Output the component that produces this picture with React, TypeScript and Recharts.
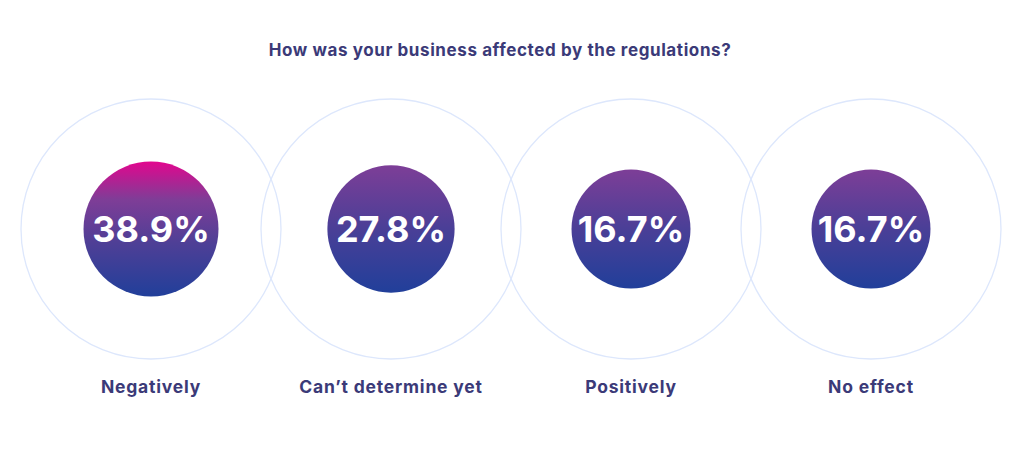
import React from 'react';
import { ScatterChart, Scatter, XAxis, YAxis, ZAxis, Cell, LabelList } from 'recharts';

const categories = ['Negatively', "Can\u2019t determine yet", 'Positively', 'No effect'];
const values = [38.9, 27.8, 16.7, 16.7];
const title = 'How was your business affected by the regulations?';

const data = categories.map((name, i) => ({ x: i, y: 0.5, value: values[i], name }));
const zMin = Math.min(...values);
const zMax = Math.max(...values);

const FONT = 'Inter, "Open Sans", sans-serif';
const TEXT = '#3b3a78';

const OuterRing = (props: any) => (
  <circle cx={props.cx} cy={props.cy} r={130} fill="none" stroke="#dde7fc" strokeWidth={1.3} />
);

const CatTick = (props: any) => {
  const { x, y, payload } = props;
  return (
    <text
      x={x}
      y={y}
      dy={26}
      textAnchor="middle"
      fontFamily={FONT}
      fontWeight={700}
      fontSize={17.5}
      letterSpacing={0.8}
      fill={TEXT}
    >
      {categories[payload.value]}
    </text>
  );
};

export default function App() {
  return (
    <div style={{ position: 'absolute', left: 0, top: 0, width: 1024, height: 459, background: '#fff' }}>
      <div
        style={{
          position: 'absolute', left: 0, top: 39.5, width: 1000, textAlign: 'center',
          fontFamily: FONT, fontWeight: 700, fontSize: 17, letterSpacing: 0.6, color: TEXT,
          whiteSpace: 'nowrap',
        }}
      >
        {title}
      </div>
      <ScatterChart width={1024} height={459} margin={{ top: 99, right: 33, bottom: 70, left: 31 }}>
        <defs>
          <linearGradient id="gradHi" x1="0" y1="0" x2="0" y2="1">
            <stop offset="0" stopColor="#e2068e" />
            <stop offset="0.28" stopColor="#7f3d97" />
            <stop offset="0.6" stopColor="#4f3f96" />
            <stop offset="1" stopColor="#213f9a" />
          </linearGradient>
          <linearGradient id="gradLo" x1="0" y1="0" x2="0" y2="1">
            <stop offset="0" stopColor="#7d3e97" />
            <stop offset="0.5" stopColor="#4a3f97" />
            <stop offset="1" stopColor="#213f9a" />
          </linearGradient>
        </defs>
        <XAxis
          type="number"
          dataKey="x"
          domain={[-0.5, 3.5]}
          ticks={[0, 1, 2, 3]}
          axisLine={false}
          tickLine={false}
          tick={<CatTick />}
          height={30}
        />
        <YAxis type="number" dataKey="y" domain={[0, 1]} hide />
        <ZAxis zAxisId="outer" range={[100, 100]} />
        <ZAxis
          zAxisId="inner"
          type="number"
          dataKey="value"
          domain={[zMin, zMax]}
          range={[Math.PI * 59.5 * 59.5, Math.PI * 67.5 * 67.5]}
        />
        <Scatter data={data} zAxisId="outer" shape={<OuterRing />} isAnimationActive={false} />
        <Scatter data={data} zAxisId="inner" isAnimationActive={false}>
          {data.map((d, i) => (
            <Cell key={i} fill={i === 0 ? 'url(#gradHi)' : 'url(#gradLo)'} />
          ))}
          <LabelList
            dataKey="value"
            position="center"
            formatter={(v: any) => `${v}%`}
            fill="#ffffff"
            fontFamily={FONT}
            fontWeight={700}
            fontSize={36}
          />
        </Scatter>
      </ScatterChart>
    </div>
  );
}
